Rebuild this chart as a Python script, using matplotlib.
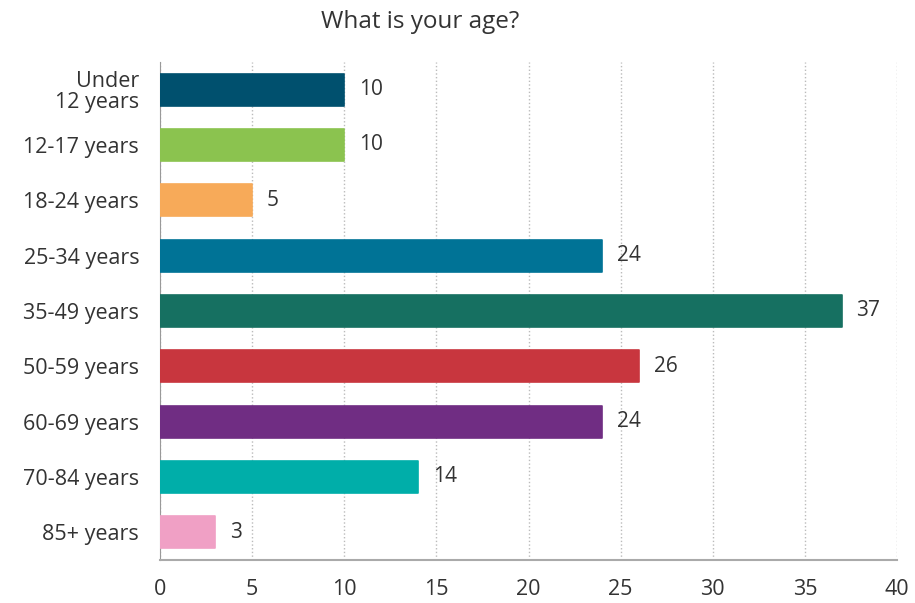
import matplotlib.pyplot as plt

plt.rcParams['font.family'] = ['Open Sans', 'DejaVu Sans']

# data
age_groups = ["Under\n12 years", "12-17 years", "18-24 years", "25-34 years", "35-49 years",
              "50-59 years", "60-69 years", "70-84 years", "85+ years"]
counts = [10, 10, 5, 24, 37, 26, 24, 14, 3]
colors = ["#00506e", "#8bc34f", "#f7aa59", "#007396", "#167061",
          "#c8363e", "#702d83", "#00aea9", "#f0a0c5"]

fig = plt.figure(figsize=(9.15, 6.03), dpi=100)
ax = fig.add_axes([160/915, 1-560/603, (897-160)/915, (560-62)/603])

ypos = list(range(len(age_groups)))
ax.barh(ypos, counts, height=0.58, color=colors, edgecolor=colors,
        linewidth=1.2, joinstyle='round', zorder=3)

for y, v in zip(ypos, counts):
    ax.text(v + 0.8, y, str(v), va='center', ha='left', fontsize=15, color='#333333')

ax.set_ylim(len(age_groups) - 0.5, -0.5)
ax.set_xlim(0, 40)
ax.set_yticks(ypos)
ax.set_yticklabels(age_groups, fontsize=15.5, color='#333333', linespacing=1.0)
ax.set_xticks(range(0, 41, 5))
ax.tick_params(axis='x', labelsize=15.5, colors='#333333', length=0, pad=14)
ax.tick_params(axis='y', length=0, pad=15)

ax.grid(axis='x', linestyle=':', color='#bbbbbb', linewidth=1, zorder=0)
for s in ['top', 'right']:
    ax.spines[s].set_visible(False)
ax.spines['left'].set_color('#999999')
ax.spines['bottom'].set_color('#aaaaaa')
ax.spines['bottom'].set_linewidth(1.5)

fig.text(420/915, 1-22/603, "What is your age?", ha='center', va='center',
         fontsize=17.5, color='#333333')

fig.savefig("out.png", dpi=100)
